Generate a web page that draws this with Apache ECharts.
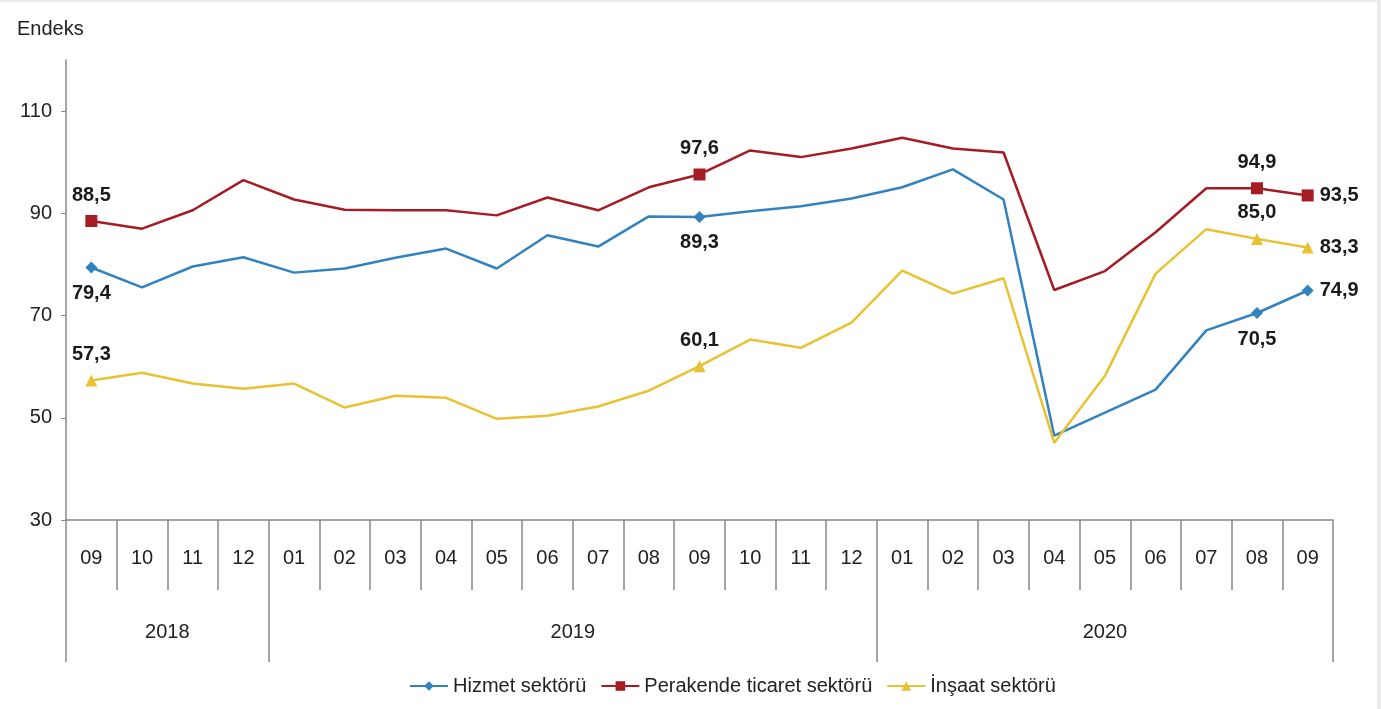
<!DOCTYPE html>
<html>
<head>
<meta charset="utf-8">
<script src="https://cdn.jsdelivr.net/npm/echarts@6/dist/echarts.min.js"></script>
<style>
  html, body { margin: 0; padding: 0; background: #ebebeb; }
  #chart { position: absolute; left: 0; top: 2px; width: 1377px; height: 707px; background: #fff; }
</style>
</head>
<body>
<div id="chart"></div>
<script>
// ---------------------------------------------------
// Datos
// ---------------------------------------------------
const months = ["09","10","11","12","01","02","03","04","05","06","07","08","09",
                "10","11","12","01","02","03","04","05","06","07","08","09"];
const years = ["2018", "2019", "2020"];
const yearBounds = [0, 4, 16, 25];
const yearCenters = [2, 10, 20.5];

const hizmet = [79.4, 75.5, 79.6, 81.4, 78.4, 79.2, 81.3, 83.1, 79.2, 85.7, 83.5, 89.4, 89.3,
                90.4, 91.4, 92.9, 95.1, 98.6, 92.7, 46.5, 51.0, 55.5, 67.1, 70.5, 74.9];
const perakende = [88.5, 87.0, 90.6, 96.5, 92.7, 90.7, 90.6, 90.6, 89.6, 93.1, 90.6, 95.1, 97.6,
                   102.3, 101.0, 102.7, 104.8, 102.7, 101.9, 75.0, 78.7, 86.3, 94.9, 94.9, 93.5];
const insaat = [57.3, 58.8, 56.7, 55.7, 56.7, 52.0, 54.3, 53.9, 49.8, 50.4, 52.2, 55.3, 60.1,
                65.3, 63.7, 68.6, 78.8, 74.3, 77.3, 45.1, 58.2, 78.2, 86.9, 85.0, 83.3];

const markedIdx = [0, 12, 23, 24];

const FONT = '"Liberation Sans", Arial, sans-serif';

const fmt = v => v.toFixed(1).replace('.', ',');

// arma los puntos con marcador y etiqueta solo en los indices marcados
const buildData = (values, positions) => values.map((v, i) => {
  const k = markedIdx.indexOf(i);
  if (k < 0) return { value: v, symbolSize: 0 };
  return {
    value: v,
    label: {
      show: true,
      position: positions[k],
      distance: positions[k] === 'right' ? 6 : 10,
      formatter: p => fmt(p.value),
      fontFamily: FONT,
      fontSize: 20,
      fontWeight: 'bold',
      color: '#1a1a1a'
    }
  };
});

const chart = echarts.init(document.getElementById("chart"));

const option = {
  animation: false,
  title: {
    text: 'Endeks',
    left: 12, top: 12,
    textStyle: { fontFamily: FONT, fontSize: 20, fontWeight: 'normal', color: '#222' }
  },
  legend: {
    bottom: 8,
    left: 404,
    itemWidth: 38,
    itemHeight: 12,
    itemGap: 14,
    textStyle: { fontFamily: FONT, fontSize: 20, color: '#222' },
    data: ['Hizmet sektörü', 'Perakende ticaret sektörü', 'İnşaat sektörü']
  },
  grid: { left: 66, right: 44, top: 58, bottom: 189 },
  xAxis: [
    {
      type: 'category',
      data: months,
      boundaryGap: true,
      position: 'bottom',
      axisLine: { show: true, lineStyle: { color: '#888', width: 1.5 } },
      axisTick: { show: true, interval: 0, length: 70, lineStyle: { color: '#888', width: 1.5 } },
      axisLabel: { interval: 0, margin: 28, fontFamily: FONT, fontSize: 20, color: '#222' },
      splitLine: { show: false }
    },
    {
      type: 'value',
      min: 0, max: 25,
      position: 'bottom',
      offset: 0,
      axisLine: { show: false },
      axisTick: { show: true, length: 142, customValues: yearBounds, lineStyle: { color: '#888', width: 1.5 } },
      axisLabel: {
        customValues: yearCenters,
        margin: 102,
        fontFamily: FONT, fontSize: 20, color: '#222',
        formatter: v => years[yearCenters.indexOf(v)]
      },
      splitLine: { show: false }
    }
  ],
  yAxis: {
    type: 'value',
    min: 30, max: 120, interval: 20,
    axisLine: { show: true, lineStyle: { color: '#888', width: 1.5 } },
    axisTick: { show: true, length: 5, customValues: [30, 50, 70, 90, 110], lineStyle: { color: '#888' } },
    axisLabel: { customValues: [30, 50, 70, 90, 110], margin: 14, fontFamily: FONT, fontSize: 20, color: '#222' },
    splitLine: { show: false }
  },
  series: [
    {
      name: 'Hizmet sektörü',
      type: 'line',
      symbol: 'diamond',
      symbolSize: 12,
      showAllSymbol: true,
      color: '#3382c0',
      lineStyle: { width: 2.5 },
      data: buildData(hizmet, ['bottom', 'bottom', 'bottom', 'right'])
    },
    {
      name: 'Perakende ticaret sektörü',
      type: 'line',
      symbol: 'rect',
      symbolSize: 12,
      showAllSymbol: true,
      color: '#a61c24',
      lineStyle: { width: 2.5 },
      data: buildData(perakende, ['top', 'top', 'top', 'right'])
    },
    {
      name: 'İnşaat sektörü',
      type: 'line',
      symbol: 'triangle',
      symbolSize: 12,
      showAllSymbol: true,
      color: '#e8c233',
      lineStyle: { width: 2.5 },
      data: buildData(insaat, ['top', 'top', 'top', 'right'])
    }
  ]
};

chart.setOption(option);
</script>
</body>
</html>
